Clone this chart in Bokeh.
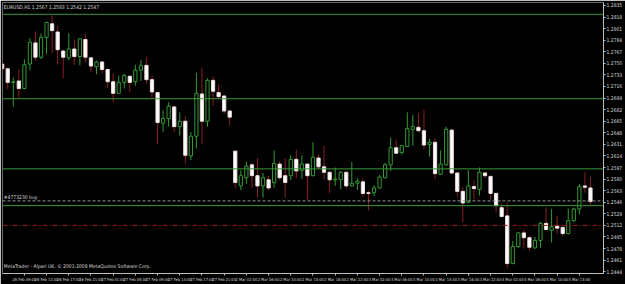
from bokeh.plotting import figure
from bokeh.models import ColumnDataSource, FixedTicker, Range1d, Span, Label, PrintfTickFormatter
from bokeh.embed import file_html
from bokeh.resources import INLINE

# ---- data (EURUSD, H1) ----
opens = [1.2749, 1.2742, 1.2722, 1.2724, 1.2713, 1.2749, 1.2780, 1.2759, 1.2788, 1.2808,
         1.2796, 1.2768, 1.2758, 1.2771, 1.2760, 1.2785, 1.2758, 1.2745, 1.2752, 1.2741,
         1.2723, 1.2706, 1.2722, 1.2731, 1.2723, 1.2740, 1.2747, 1.2726, 1.2707, 1.2662,
         1.2669, 1.2686, 1.2657, 1.2665, 1.2614, 1.2643, 1.2705, 1.2665, 1.2725, 1.2707,
         1.2702, 1.2680, 1.2621, 1.2570, 1.2582, 1.2601, 1.2585, 1.2570, 1.2579, 1.2575,
         1.2602, 1.2585, 1.2585, 1.2609, 1.2593, 1.2602, 1.2585, 1.2611, 1.2598, 1.2590,
         1.2579, 1.2579, 1.2590, 1.2570, 1.2574, 1.2576, 1.2560, 1.2560, 1.2567, 1.2582,
         1.2601, 1.2626, 1.2619, 1.2628, 1.2653, 1.2656, 1.2651, 1.2631, 1.2634, 1.2587,
         1.2601, 1.2652, 1.2589, 1.2562, 1.2546, 1.2569, 1.2565, 1.2589, 1.2584, 1.2559,
         1.2538, 1.2526, 1.2456, 1.2481, 1.2501, 1.2494, 1.2479, 1.2490, 1.2515, 1.2505,
         1.2511, 1.2509, 1.2500, 1.2519, 1.2536, 1.2570, 1.2567]
highs = [1.2755, 1.2743, 1.2729, 1.2741, 1.2756, 1.2787, 1.2797, 1.2794, 1.2811, 1.2820,
         1.2805, 1.2770, 1.2794, 1.2785, 1.2787, 1.2793, 1.2759, 1.2754, 1.2753, 1.2742,
         1.2735, 1.2732, 1.2735, 1.2732, 1.2748, 1.2755, 1.2759, 1.2732, 1.2708, 1.2681,
         1.2693, 1.2688, 1.2678, 1.2672, 1.2649, 1.2736, 1.2743, 1.2728, 1.2731, 1.2719,
         1.2703, 1.2681, 1.2622, 1.2593, 1.2606, 1.2603, 1.2611, 1.2589, 1.2585, 1.2622,
         1.2606, 1.2611, 1.2615, 1.2623, 1.2615, 1.2603, 1.2634, 1.2617, 1.2629, 1.2590,
         1.2597, 1.2592, 1.2591, 1.2605, 1.2582, 1.2581, 1.2563, 1.2571, 1.2586, 1.2604,
         1.2641, 1.2638, 1.2630, 1.2678, 1.2674, 1.2677, 1.2682, 1.2639, 1.2640, 1.2622,
         1.2657, 1.2654, 1.2590, 1.2568, 1.2593, 1.2578, 1.2597, 1.2590, 1.2585, 1.2560,
         1.2544, 1.2546, 1.2489, 1.2502, 1.2506, 1.2496, 1.2495, 1.2517, 1.2538, 1.2536,
         1.2526, 1.2512, 1.2537, 1.2538, 1.2573, 1.2590, 1.2583]
lows = [1.2738, 1.2712, 1.2686, 1.2698, 1.2712, 1.2740, 1.2754, 1.2756, 1.2764, 1.2764,
        1.2748, 1.2728, 1.2755, 1.2748, 1.2747, 1.2751, 1.2737, 1.2734, 1.2736, 1.2714,
        1.2693, 1.2705, 1.2713, 1.2708, 1.2717, 1.2724, 1.2720, 1.2698, 1.2631, 1.2649,
        1.2657, 1.2649, 1.2644, 1.2603, 1.2608, 1.2625, 1.2631, 1.2657, 1.2688, 1.2699,
        1.2676, 1.2659, 1.2567, 1.2564, 1.2573, 1.2567, 1.2553, 1.2553, 1.2564, 1.2567,
        1.2579, 1.2553, 1.2579, 1.2582, 1.2580, 1.2550, 1.2584, 1.2594, 1.2580, 1.2559,
        1.2570, 1.2565, 1.2566, 1.2569, 1.2564, 1.2554, 1.2534, 1.2555, 1.2566, 1.2581,
        1.2592, 1.2617, 1.2616, 1.2627, 1.2629, 1.2650, 1.2624, 1.2613, 1.2580, 1.2586,
        1.2600, 1.2587, 1.2554, 1.2517, 1.2545, 1.2550, 1.2556, 1.2582, 1.2550, 1.2532,
        1.2524, 1.2449, 1.2455, 1.2479, 1.2478, 1.2475, 1.2478, 1.2479, 1.2505, 1.2487,
        1.2500, 1.2496, 1.2499, 1.2517, 1.2528, 1.2560, 1.2542]
closes = [1.2742, 1.2722, 1.2723, 1.2713, 1.2748, 1.2781, 1.2759, 1.2788, 1.2810, 1.2798,
          1.2770, 1.2759, 1.2771, 1.2760, 1.2786, 1.2759, 1.2746, 1.2752, 1.2741, 1.2723,
          1.2706, 1.2722, 1.2732, 1.2722, 1.2740, 1.2747, 1.2726, 1.2708, 1.2663, 1.2669,
          1.2687, 1.2657, 1.2665, 1.2615, 1.2643, 1.2706, 1.2665, 1.2725, 1.2709, 1.2701,
          1.2680, 1.2671, 1.2575, 1.2585, 1.2599, 1.2585, 1.2570, 1.2582, 1.2567, 1.2603,
          1.2582, 1.2575, 1.2609, 1.2592, 1.2602, 1.2585, 1.2612, 1.2598, 1.2590, 1.2579,
          1.2580, 1.2590, 1.2570, 1.2574, 1.2577, 1.2559, 1.2559, 1.2567, 1.2583, 1.2601,
          1.2626, 1.2618, 1.2629, 1.2654, 1.2657, 1.2651, 1.2630, 1.2634, 1.2588, 1.2602,
          1.2653, 1.2589, 1.2562, 1.2545, 1.2570, 1.2566, 1.2590, 1.2585, 1.2559, 1.2541,
          1.2525, 1.2456, 1.2481, 1.2501, 1.2494, 1.2480, 1.2490, 1.2515, 1.2506, 1.2510,
          1.2508, 1.2500, 1.2519, 1.2536, 1.2569, 1.2568, 1.2547]

time_tick_bars = [0, 4, 8, 12, 16, 20, 24, 28, 32, 36, 40, 44, 48, 52, 56, 60, 64, 68,
                  72, 76, 80, 84, 88, 92, 96, 100, 104]
time_tick_labels = ["26 Feb 2009", "26 Feb 09:00", "26 Feb 13:00", "26 Feb 17:00", "26 Feb 21:00",
                    "27 Feb 01:00", "27 Feb 05:00", "27 Feb 09:00", "27 Feb 13:00", "27 Feb 17:00",
                    "27 Feb 21:00", "2 Mar 02:00", "2 Mar 06:00", "2 Mar 10:00", "2 Mar 14:00",
                    "2 Mar 18:00", "2 Mar 22:00", "3 Mar 02:00", "3 Mar 06:00", "3 Mar 10:00",
                    "3 Mar 14:00", "3 Mar 18:00", "3 Mar 22:00", "4 Mar 02:00", "4 Mar 06:00",
                    "4 Mar 10:00", "4 Mar 14:00"]
price_ticks = [1.2835, 1.2818, 1.2801, 1.2784, 1.2767, 1.2750, 1.2733, 1.2716, 1.2699, 1.2682,
               1.2665, 1.2648, 1.2631, 1.2614, 1.2597, 1.2580, 1.2563, 1.2546, 1.2529, 1.2512,
               1.2495, 1.2478, 1.2461, 1.2444]

green_levels = [1.2822, 1.2698, 1.2595, 1.2541]
order_level = 1.2548
order_text = "#4773230 buy"
stop_level = 1.2512
title_text = "EURUSD,H1  1.2567 1.2583 1.2542 1.2547"
footer_text = "MetaTrader - Alpari UK, \u00a9 2001-2008 MetaQuotes Software Corp."

# ---- styling ----
BULL = "#339933"
BEAR_WICK = "#8a1f1f"
LINE_GREEN = "#3a9a3a"
TXT = "#d8d8d8"
FONT = "'DejaVu Sans Condensed', 'Liberation Sans', sans-serif"

bars = list(range(len(opens)))
up = [c >= o for o, c in zip(opens, closes)]
src = ColumnDataSource(dict(
    x=bars,
    high=highs, low=lows,
    top=[max(o, c) for o, c in zip(opens, closes)],
    bottom=[min(o, c) for o, c in zip(opens, closes)],
    wick=[BULL if u else BEAR_WICK for u in up],
    fill=["black" if u else "white" for u in up],
    edge=[BULL if u else "#f0dcdc" for u in up],
))

p = figure(width=625, height=284, output_backend="svg", toolbar_location=None,
           x_range=Range1d(0.06, 108.35), y_range=Range1d(1.24414, 1.28393),
           y_axis_location="right",
           min_border_left=2, min_border_top=2, min_border_right=0, min_border_bottom=0,
           background_fill_color="black", border_fill_color="black",
           outline_line_color="#6a6a6a")
p.grid.visible = False

for span_price in green_levels:
    p.add_layout(Span(location=span_price, dimension="width", line_color=LINE_GREEN, line_width=1))
p.add_layout(Span(location=order_level, dimension="width", line_color="#9a9a9a",
                  line_width=1, line_dash="3 2"))
p.add_layout(Span(location=stop_level, dimension="width", line_color="#9b1b1b",
                  line_width=1, line_dash="5 2 1 2"))

p.segment(x0="x", y0="low", x1="x", y1="high", color="wick", line_width=1, source=src)
p.vbar(x="x", width=0.58, top="top", bottom="bottom", fill_color="fill",
       line_color="edge", line_width=1, source=src)

# axes
xa = p.xaxis[0]
xa.ticker = FixedTicker(ticks=time_tick_bars)
xa.major_label_overrides = {b: lab for b, lab in zip(time_tick_bars, time_tick_labels)}
ya = p.yaxis[0]
ya.ticker = FixedTicker(ticks=price_ticks)
ya.formatter = PrintfTickFormatter(format="%.4f")
for ax in (xa, ya):
    ax.major_label_text_font = FONT
    ax.major_label_text_color = TXT
    ax.axis_line_color = "#bdbdbd"
    ax.major_tick_line_color = "#bdbdbd"
    ax.major_tick_in = 0
    ax.major_tick_out = 2
    ax.minor_tick_line_color = None
    ax.major_label_standoff = 1
xa.major_label_text_font_size = "4px"
ya.major_label_text_font_size = "5px"

# texts
p.add_layout(Label(x=0.3, y=1.28393, text=title_text, text_font_size="5px", text_font=FONT,
                   text_color=TXT, text_baseline="top", y_offset=-1))
p.add_layout(Label(x=0.3, y=1.2452, text=footer_text, text_font_size="5px", text_font=FONT,
                   text_color=TXT, text_baseline="middle"))
p.add_layout(Label(x=0.3, y=order_level, text=order_text, text_font_size="5px", text_font=FONT,
                   text_color=TXT, text_baseline="bottom", y_offset=1))

open("out.html", "w").write(file_html(p, INLINE))
